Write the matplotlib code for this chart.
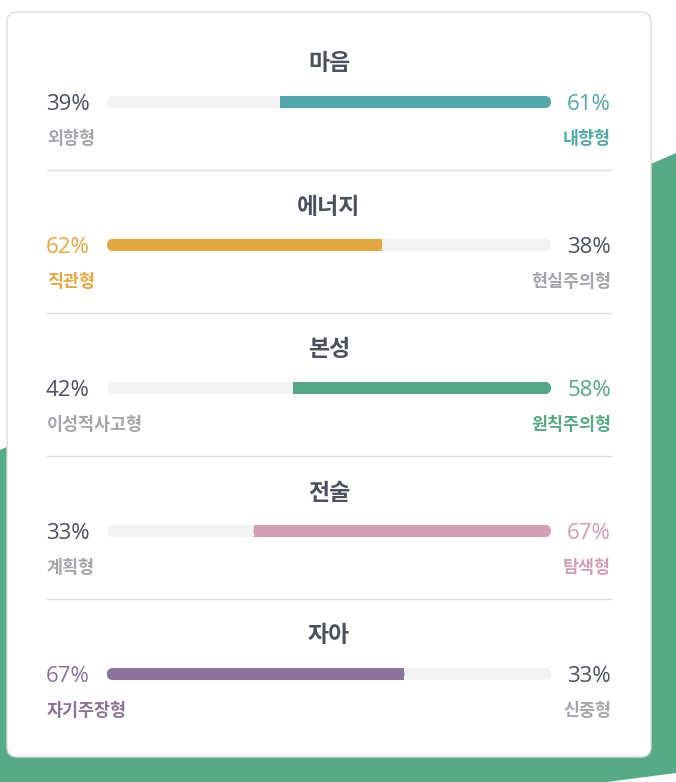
import matplotlib
matplotlib.use("Agg")
import matplotlib.pyplot as plt
from matplotlib.patches import FancyBboxPatch, Rectangle, Polygon

plt.rcParams['font.family'] = ['Noto Sans CJK KR', 'DejaVu Sans']

# data
titles = ["마음", "에너지", "본성", "전술", "자아"]
left_labels = ["외향형", "직관형", "이성적사고형", "계획형", "자기주장형"]
right_labels = ["내향형", "현실주의형", "원칙주의형", "탐색형", "신중형"]
left_pct = [39, 62, 42, 33, 67]
right_pct = [61, 38, 58, 67, 33]
colors = ["#51a8ab", "#e4a741", "#55a886", "#d39db4", "#8c7299"]

dark = "#4b4f5e"
gray = "#a3a5ab"
track = "#f3f3f3"

fig = plt.figure(figsize=(6.76, 7.82), dpi=100)
ax = fig.add_axes([0, 0, 1, 1])
ax.set_xlim(0, 676)
ax.set_ylim(782, 0)
ax.axis("off")

# green background shape
ax.add_patch(Polygon([(0, 450), (676, 153), (676, 773), (607, 782), (0, 782)],
                     closed=True, facecolor="#55aa88", edgecolor="none", zorder=0))

# white card
ax.add_patch(FancyBboxPatch((7, 12), 644, 745,
                            boxstyle="round,pad=0,rounding_size=10",
                            facecolor="white", edgecolor="#dcdcdc", lw=1, zorder=1))

x0, x1 = 107, 551
bh = 12
r = bh / 2
for i, t in enumerate(titles):
    yc = 102 + 143 * i
    c = colors[i]
    lp, rp = left_pct[i], right_pct[i]
    left_dom = lp > rp
    xm = x0 + (x1 - x0) * lp / 100

    ax.text(329, yc - 38, t, ha="center", va="center", fontsize=16.5,
            fontweight="bold", color=dark, zorder=3)

    # track
    ax.add_patch(FancyBboxPatch((x0, yc - r), x1 - x0, bh,
                                boxstyle=f"round,pad=0,rounding_size={r}",
                                facecolor=track, edgecolor="none", zorder=2))
    # filled part, rounded on the outer end only
    if left_dom:
        ax.add_patch(FancyBboxPatch((x0, yc - r), xm - x0, bh,
                                    boxstyle=f"round,pad=0,rounding_size={r}",
                                    facecolor=c, edgecolor="none", zorder=2.5))
        ax.add_patch(Rectangle((xm - r, yc - r), r, bh, facecolor=c,
                               edgecolor="none", zorder=2.5))
    else:
        ax.add_patch(FancyBboxPatch((xm, yc - r), x1 - xm, bh,
                                    boxstyle=f"round,pad=0,rounding_size={r}",
                                    facecolor=c, edgecolor="none", zorder=2.5))
        ax.add_patch(Rectangle((xm, yc - r), r, bh, facecolor=c,
                               edgecolor="none", zorder=2.5))

    lc = c if left_dom else dark
    rc = dark if left_dom else c
    ax.text(46, yc + 2.5, f"{lp}%", ha="left", va="center", fontsize=16,
            family=["Open Sans", "DejaVu Sans"], color=lc, zorder=3)
    ax.text(611, yc + 2.5, f"{rp}%", ha="right", va="center", fontsize=16,
            family=["Open Sans", "DejaVu Sans"], color=rc, zorder=3)
    ax.text(47, yc + 37, left_labels[i], ha="left", va="center", fontsize=12.5,
            fontweight="bold", color=c if left_dom else gray, zorder=3)
    ax.text(611, yc + 37, right_labels[i], ha="right", va="center", fontsize=12.5,
            fontweight="bold", color=gray if left_dom else c, zorder=3)

    if i < len(titles) - 1:
        ax.plot([47, 611], [yc + 68, yc + 68], color="#dddddd", lw=1, zorder=2)

fig.savefig("out.png", dpi=100)
